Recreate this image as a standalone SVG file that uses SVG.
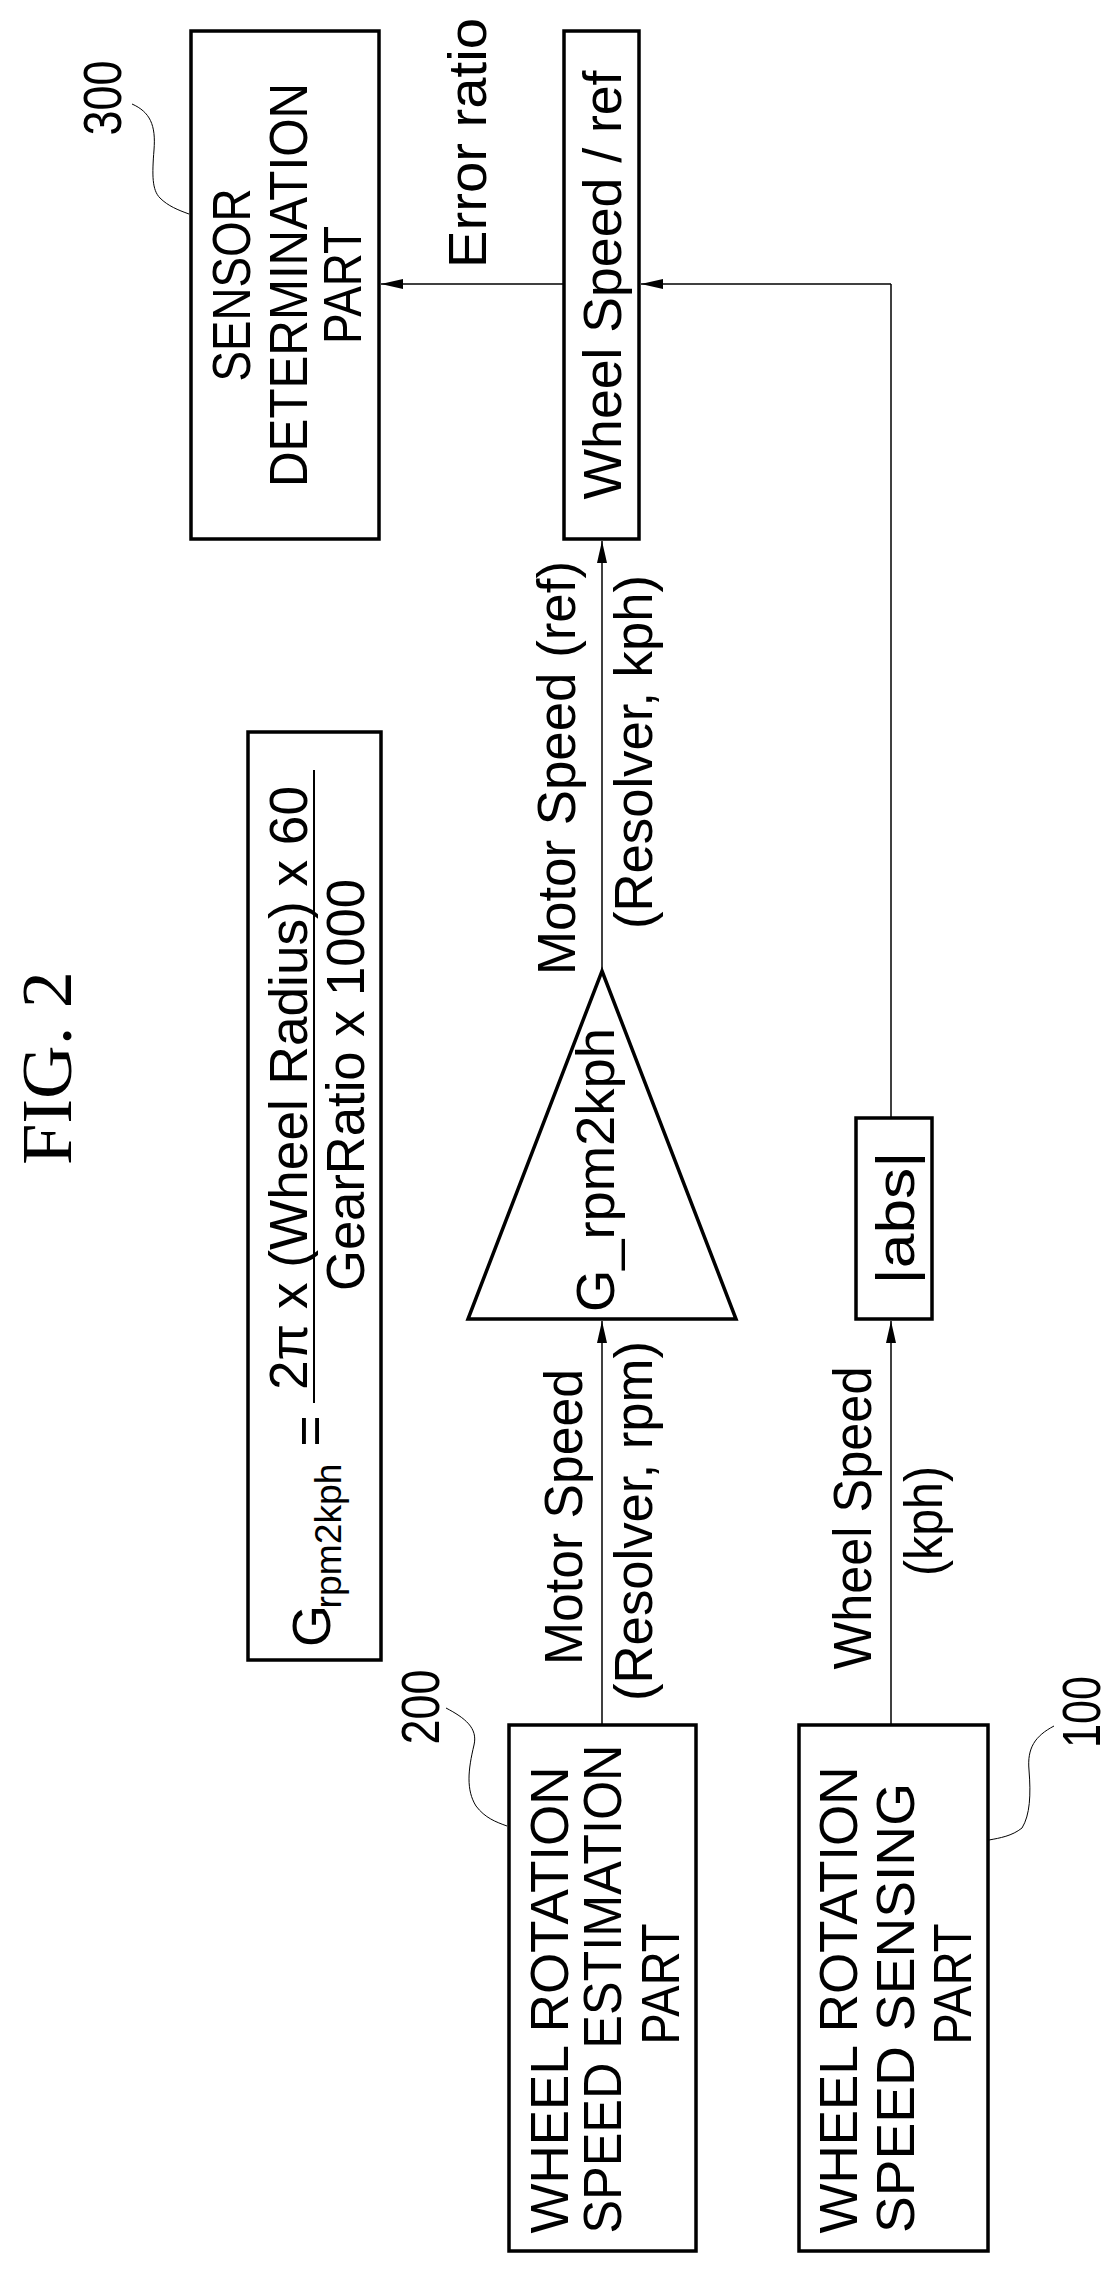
<svg xmlns="http://www.w3.org/2000/svg" width="1114" height="2274" viewBox="0 0 1114 2274">
<style>
.b{fill:none;stroke:#000;stroke-width:3.5}
.l{fill:none;stroke:#000;stroke-width:1.5}
.t{font-family:"Liberation Sans",Arial,sans-serif;font-size:54px;fill:#000;text-anchor:middle}
.th{fill:none;stroke:#000;stroke-width:1}
</style>
<defs>
<marker id="a" markerUnits="userSpaceOnUse" markerWidth="22" markerHeight="10" refX="22" refY="5" orient="auto"><path d="M0,0 L22,5 L0,10 z" fill="#000"/></marker>
</defs>
<rect width="1114" height="2274" fill="#fff"/>
<text transform="translate(71,1068) rotate(-90)" style="font-family:'Liberation Serif','Times New Roman',serif;font-size:72px;text-anchor:middle" textLength="194" lengthAdjust="spacingAndGlyphs">FIG. 2</text>
<g id="n300">
<rect class="b" x="191" y="31" width="188" height="508"/>
<text class="t" transform="translate(250,285) rotate(-90)" textLength="193" lengthAdjust="spacingAndGlyphs">SENSOR</text>
<text class="t" transform="translate(307,285) rotate(-90)" textLength="404" lengthAdjust="spacingAndGlyphs">DETERMINATION</text>
<text class="t" transform="translate(361,285) rotate(-90)" textLength="118" lengthAdjust="spacingAndGlyphs">PART</text>
<text class="t" transform="translate(121,98) rotate(-90)" textLength="75" lengthAdjust="spacingAndGlyphs">300</text>
<path class="th" d="M132,104 C150,112 156,125 154,150 C152,175 152,190 160,198 C168,206 178,210 189,214"/>
</g>
<g id="ratio">
<rect class="b" x="564" y="31" width="75" height="508"/>
<text class="t" transform="translate(621,285) rotate(-90)" textLength="429" lengthAdjust="spacingAndGlyphs">Wheel Speed / ref</text>
</g>
<g id="formula">
<rect class="b" x="248" y="732" width="133" height="928"/>
<line x1="314" y1="770" x2="314" y2="1403" stroke="#000" stroke-width="2"/>
<text class="t" transform="translate(307,1088) rotate(-90)" textLength="604" lengthAdjust="spacingAndGlyphs">2π x (Wheel Radius) x 60</text>
<text class="t" transform="translate(364,1085) rotate(-90)" textLength="412" lengthAdjust="spacingAndGlyphs">GearRatio x 1000</text>
<text class="t" transform="translate(328,1431) rotate(-90)">=</text>
<text class="t" transform="translate(330,1626) rotate(-90)">G</text>
<text class="t" style="font-size:36px" transform="translate(341,1536) rotate(-90)" textLength="145" lengthAdjust="spacingAndGlyphs">rpm2kph</text>
</g>
<g id="gain">
<path class="b" d="M602,971 L736,1319 L468,1319 Z"/>
<text class="t" transform="translate(614,1170) rotate(-90)" textLength="284" lengthAdjust="spacingAndGlyphs">G_rpm2kph</text>
</g>
<g id="abs">
<rect class="b" x="856" y="1118" width="76" height="201"/>
<text class="t" transform="translate(914,1218) rotate(-90)" textLength="133" lengthAdjust="spacingAndGlyphs">|abs|</text>
</g>
<g id="n200">
<rect class="b" x="509" y="1725" width="187" height="526"/>
<text class="t" transform="translate(568,2000) rotate(-90)" textLength="467" lengthAdjust="spacingAndGlyphs">WHEEL ROTATION</text>
<text class="t" transform="translate(621,1989) rotate(-90)" textLength="489" lengthAdjust="spacingAndGlyphs">SPEED ESTIMATION</text>
<text class="t" transform="translate(679,1984) rotate(-90)" textLength="121" lengthAdjust="spacingAndGlyphs">PART</text>
<text class="t" transform="translate(439,1707) rotate(-90)" textLength="75" lengthAdjust="spacingAndGlyphs">200</text>
<path class="th" d="M446,1708 C465,1718 478,1728 474,1745 C468,1770 466,1790 476,1806 C485,1818 496,1822 507,1826"/>
</g>
<g id="n100">
<rect class="b" x="799" y="1725" width="189" height="526"/>
<text class="t" transform="translate(857,2000) rotate(-90)" textLength="467" lengthAdjust="spacingAndGlyphs">WHEEL ROTATION</text>
<text class="t" transform="translate(914,2008) rotate(-90)" textLength="450" lengthAdjust="spacingAndGlyphs">SPEED SENSING</text>
<text class="t" transform="translate(971,1984) rotate(-90)" textLength="121" lengthAdjust="spacingAndGlyphs">PART</text>
<text class="t" transform="translate(1100,1712) rotate(-90)" textLength="72" lengthAdjust="spacingAndGlyphs">100</text>
<path class="th" d="M1054,1726 C1035,1736 1027,1748 1029,1770 C1031,1795 1030,1815 1022,1828 C1012,1836 1000,1838 989,1840"/>
</g>
<g id="connectors">
<line class="l" x1="564" y1="284" x2="381" y2="284" marker-end="url(#a)"/>
<line class="l" x1="891" y1="1118" x2="891" y2="284"/>
<line class="l" x1="891" y1="284" x2="641" y2="284" marker-end="url(#a)"/>
<line class="l" x1="602" y1="971" x2="602" y2="541" marker-end="url(#a)"/>
<line class="l" x1="602" y1="1725" x2="602" y2="1321" marker-end="url(#a)"/>
<line class="l" x1="891" y1="1725" x2="891" y2="1321" marker-end="url(#a)"/>
</g>
<g id="labels">
<text class="t" transform="translate(486,143) rotate(-90)" textLength="250" lengthAdjust="spacingAndGlyphs">Error ratio</text>
<text class="t" transform="translate(575,768) rotate(-90)" textLength="414" lengthAdjust="spacingAndGlyphs">Motor Speed (ref)</text>
<text class="t" transform="translate(652,752) rotate(-90)" textLength="354" lengthAdjust="spacingAndGlyphs">(Resolver, kph)</text>
<text class="t" transform="translate(582,1517) rotate(-90)" textLength="296" lengthAdjust="spacingAndGlyphs">Motor Speed</text>
<text class="t" transform="translate(652,1521) rotate(-90)" textLength="360" lengthAdjust="spacingAndGlyphs">(Resolver, rpm)</text>
<text class="t" transform="translate(871,1518) rotate(-90)" textLength="303" lengthAdjust="spacingAndGlyphs">Wheel Speed</text>
<text class="t" transform="translate(942,1521) rotate(-90)" textLength="110" lengthAdjust="spacingAndGlyphs">(kph)</text>
</g>
</svg>
